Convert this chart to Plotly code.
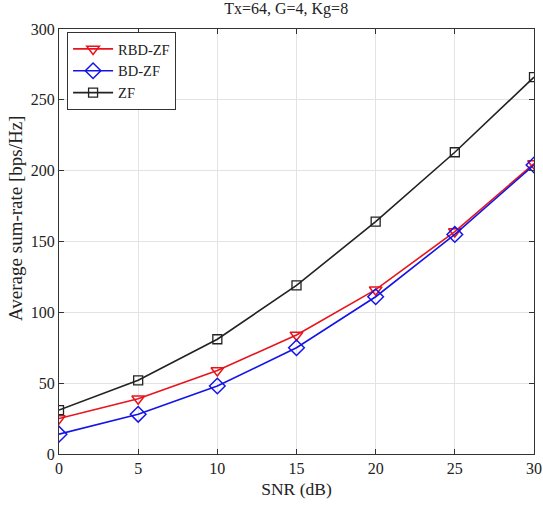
import plotly.graph_objects as go

snr = [0, 5, 10, 15, 20, 25, 30]
rbd_zf = [25, 39, 59, 84, 116, 157, 205]
bd_zf = [14, 28, 48, 75, 111, 155, 204]
zf = [31, 52, 81, 119, 164, 213, 266]

x_ticks = [0, 5, 10, 15, 20, 25, 30]
y_ticks = [0, 50, 100, 150, 200, 250, 300]

font = "Liberation Serif, Times New Roman, serif"

fig = go.Figure()
fig.add_trace(go.Scatter(x=snr, y=rbd_zf, name="RBD-ZF", mode="lines+markers",
                         line=dict(color="#e8141c", width=1.6),
                         marker=dict(symbol="triangle-down-open", size=11, color="#e8141c", line=dict(width=1.5))))
fig.add_trace(go.Scatter(x=snr, y=bd_zf, name="BD-ZF", mode="lines+markers",
                         line=dict(color="#1414e8", width=1.6),
                         marker=dict(symbol="diamond-open", size=12, color="#1414e8", line=dict(width=1.5))))
fig.add_trace(go.Scatter(x=snr, y=zf, name="ZF", mode="lines+markers",
                         line=dict(color="#222222", width=1.6),
                         marker=dict(symbol="square-open", size=9, color="#222222", line=dict(width=1.3))))

axis_common = dict(showline=True, linecolor="#333333", linewidth=1, mirror="ticks",
                   ticks="inside", ticklen=5, tickcolor="#333333", automargin=False,
                   showgrid=True, gridcolor="#e3e3e3", gridwidth=1, zeroline=False,
                   tickfont=dict(family=font, size=16, color="#222222"))

fig.update_xaxes(range=[0, 30], tickvals=x_ticks, **axis_common,
                 title=dict(text="SNR (dB)", font=dict(family=font, size=17.5, color="#222222"), standoff=6))
fig.update_yaxes(range=[0, 300], tickvals=y_ticks, **axis_common)

fig.add_annotation(text="Average sum-rate [bps/Hz]", xref="paper", yref="paper",
                   x=-0.093, y=0.555, xanchor="center", yanchor="middle", textangle=-90,
                   showarrow=False, font=dict(family=font, size=19, color="#222222"))

fig.update_layout(
    width=543, height=509,
    margin=dict(l=59, r=9, t=29, b=55, autoexpand=False),
    paper_bgcolor="white", plot_bgcolor="white",
    title=dict(text="Tx=64, G=4, Kg=8", x=0.527, xanchor="center", y=0.995, yanchor="top",
               font=dict(family=font, size=16, color="#222222"), automargin=False),
    legend=dict(x=0.017, y=0.993, xanchor="left", yanchor="top",
                bordercolor="#333333", borderwidth=1, bgcolor="white",
                font=dict(family=font, size=14.5, color="#222222"),
                tracegroupgap=0, itemwidth=40),
    showlegend=True,
)

fig.write_html("out.html", config={"displayModeBar": False},
               post_script="document.body.style.margin='0px';document.body.style.overflow='hidden';")
